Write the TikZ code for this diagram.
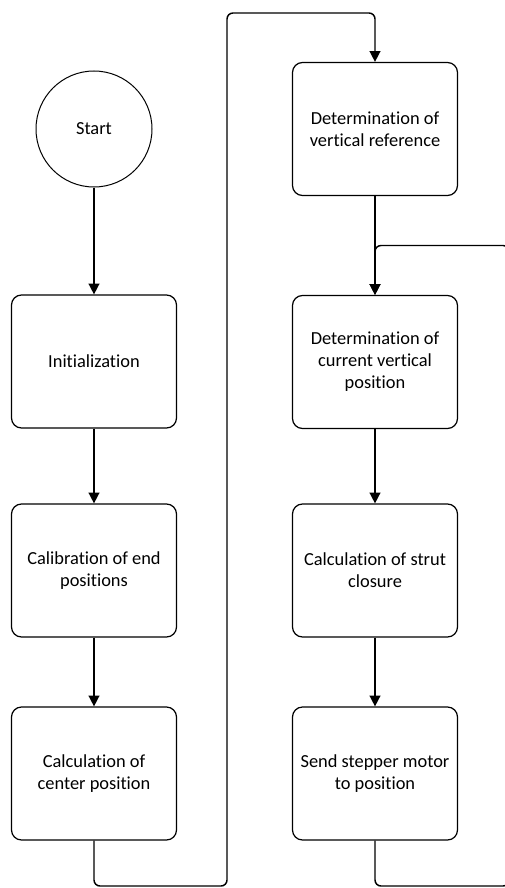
\documentclass[tikz,border=0pt]{standalone}
\usepackage{fontspec}
\setmainfont{Carlito}[Ligatures=NoCommon]
\usetikzlibrary{shapes, arrows.meta, positioning, calc}

\begin{document}
\begin{tikzpicture}[x=0.75pt, y=-0.75pt,
  procbox/.style={draw, rounded corners=7.5pt, line width=0.9pt, minimum width=123.75pt, minimum height=99.75pt, align=center, inner sep=4pt, font=\fontsize{13.8pt}{16.5pt}\selectfont},
  startnode/.style={draw, circle, line width=0.75pt, minimum size=87pt, inner sep=0pt, font=\fontsize{13.8pt}{16.5pt}\selectfont},
  flowline/.style={line width=1.1pt, -{Triangle[length=8pt, width=8pt]}, rounded corners=4.5pt}]
  \clip (0,0) rectangle (505,888);

  % left column
  \node[startnode] (start) at (94,129) {Start};
  \node[procbox] (init) at (94,361.5) {Initialization};
  \node[procbox] (calib) at (94,570.5) {Calibration of end\\positions};
  \node[procbox] (center) at (94,773.5) {Calculation of\\center position};

  % right column
  \node[procbox] (vertref) at (375,129) {Determination of\\vertical reference};
  \node[procbox] (curpos) at (375,362) {Determination of\\current vertical\\position};
  \node[procbox] (strut) at (375,570.5) {Calculation of strut\\closure};
  \node[procbox] (motor) at (375,773.5) {Send stepper motor\\to position};

  % turning points of the two return lines
  \coordinate (lowL) at (227,886);
  \coordinate (topL) at (227,13);
  \coordinate (lowR) at (509,886);
  \coordinate (topR) at (509,245.5);

  \draw[flowline] (start) -- (init);
  \draw[flowline] (init) -- (calib);
  \draw[flowline] (calib) -- (center);
  \draw[flowline] (center.south) |- (lowL) -- (topL) -| (vertref.north);
  \draw[flowline] (vertref) -- (curpos);
  \draw[flowline] (curpos) -- (strut);
  \draw[flowline] (strut) -- (motor);
  \draw[flowline] (motor.south) |- (lowR) -- (topR) -| (curpos.north);
\end{tikzpicture}
\end{document}
